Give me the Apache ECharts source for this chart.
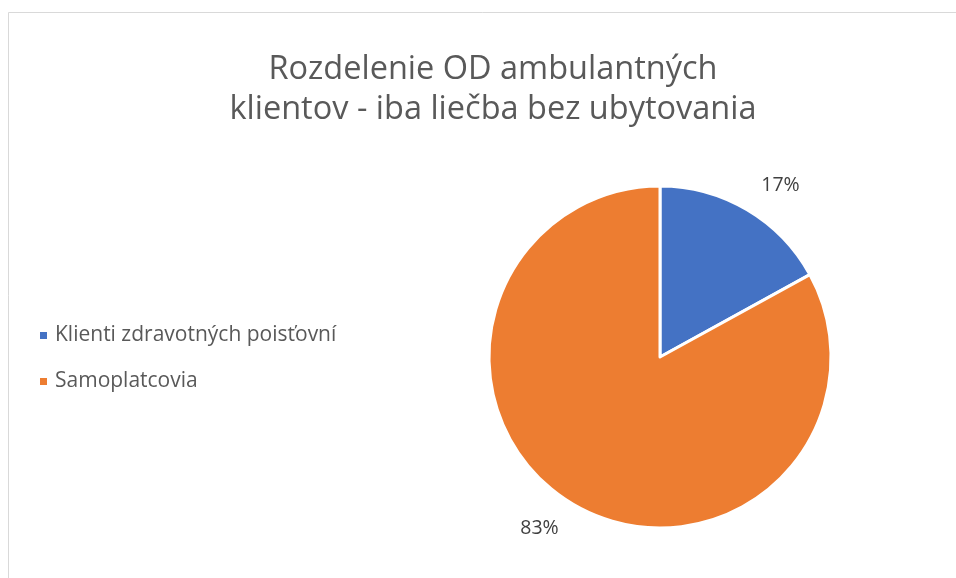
<!DOCTYPE html>
<html>
<head>
<meta charset="utf-8">
<script src="https://cdn.jsdelivr.net/npm/echarts@6/dist/echarts.min.js"></script>
<style>
  html, body { margin: 0; padding: 0; background: #fff; }
  #main { width: 956px; height: 578px; }
</style>
</head>
<body>
<div id="main"></div>
<script>
// dáta grafu
const categories = ['Klienti zdravotných poisťovní', 'Samoplatcovia'];
const values = [17, 83];
const colors = ['#4472C4', '#ED7D31'];

const chart = echarts.init(document.getElementById('main'));

const option = {
    backgroundColor: '#fff',
    color: colors,
    graphic: [{
        type: 'rect',
        shape: { x: 8.5, y: 12.5, width: 1200, height: 1200 },
        style: { fill: 'none', stroke: '#d9d9d9', lineWidth: 1 },
        silent: true
    }],
    title: {
        text: 'Rozdelenie OD ambulantných\nklientov - iba liečba bez ubytovania',
        left: 488,
        top: 45,
        textAlign: 'center',
        textStyle: {
            fontFamily: 'Open Sans',
            fontSize: 32.5,
            fontWeight: 'normal',
            color: '#595959',
            lineHeight: 40
        }
    },
    legend: {
        orient: 'vertical',
        left: 33,
        top: 320,
        itemWidth: 9,
        itemHeight: 9,
        itemGap: 25,
        icon: 'rect',
        textStyle: {
            fontFamily: 'Open Sans',
            fontSize: 21,
            color: '#595959',
            padding: [0, 0, 0, 2]
        },
        data: categories
    },
    series: [{
        type: 'pie',
        center: [660, 357],
        radius: 171,
        startAngle: 90,
        clockwise: true,
        avoidLabelOverlap: false,
        itemStyle: { borderColor: '#fff', borderWidth: 3 },
        label: {
            show: true,
            position: 'outside',
            formatter: '{d}%',
            fontFamily: 'Open Sans',
            fontSize: 19.5,
            color: '#404040',
            distanceToLabelLine: 0
        },
        labelLine: { show: false, length: 28, length2: 0 },
        emphasis: { scale: false },
        data: categories.map((name, i) => ({ name: name, value: values[i] }))
    }]
};
chart.setOption(option);
</script>
</body>
</html>
